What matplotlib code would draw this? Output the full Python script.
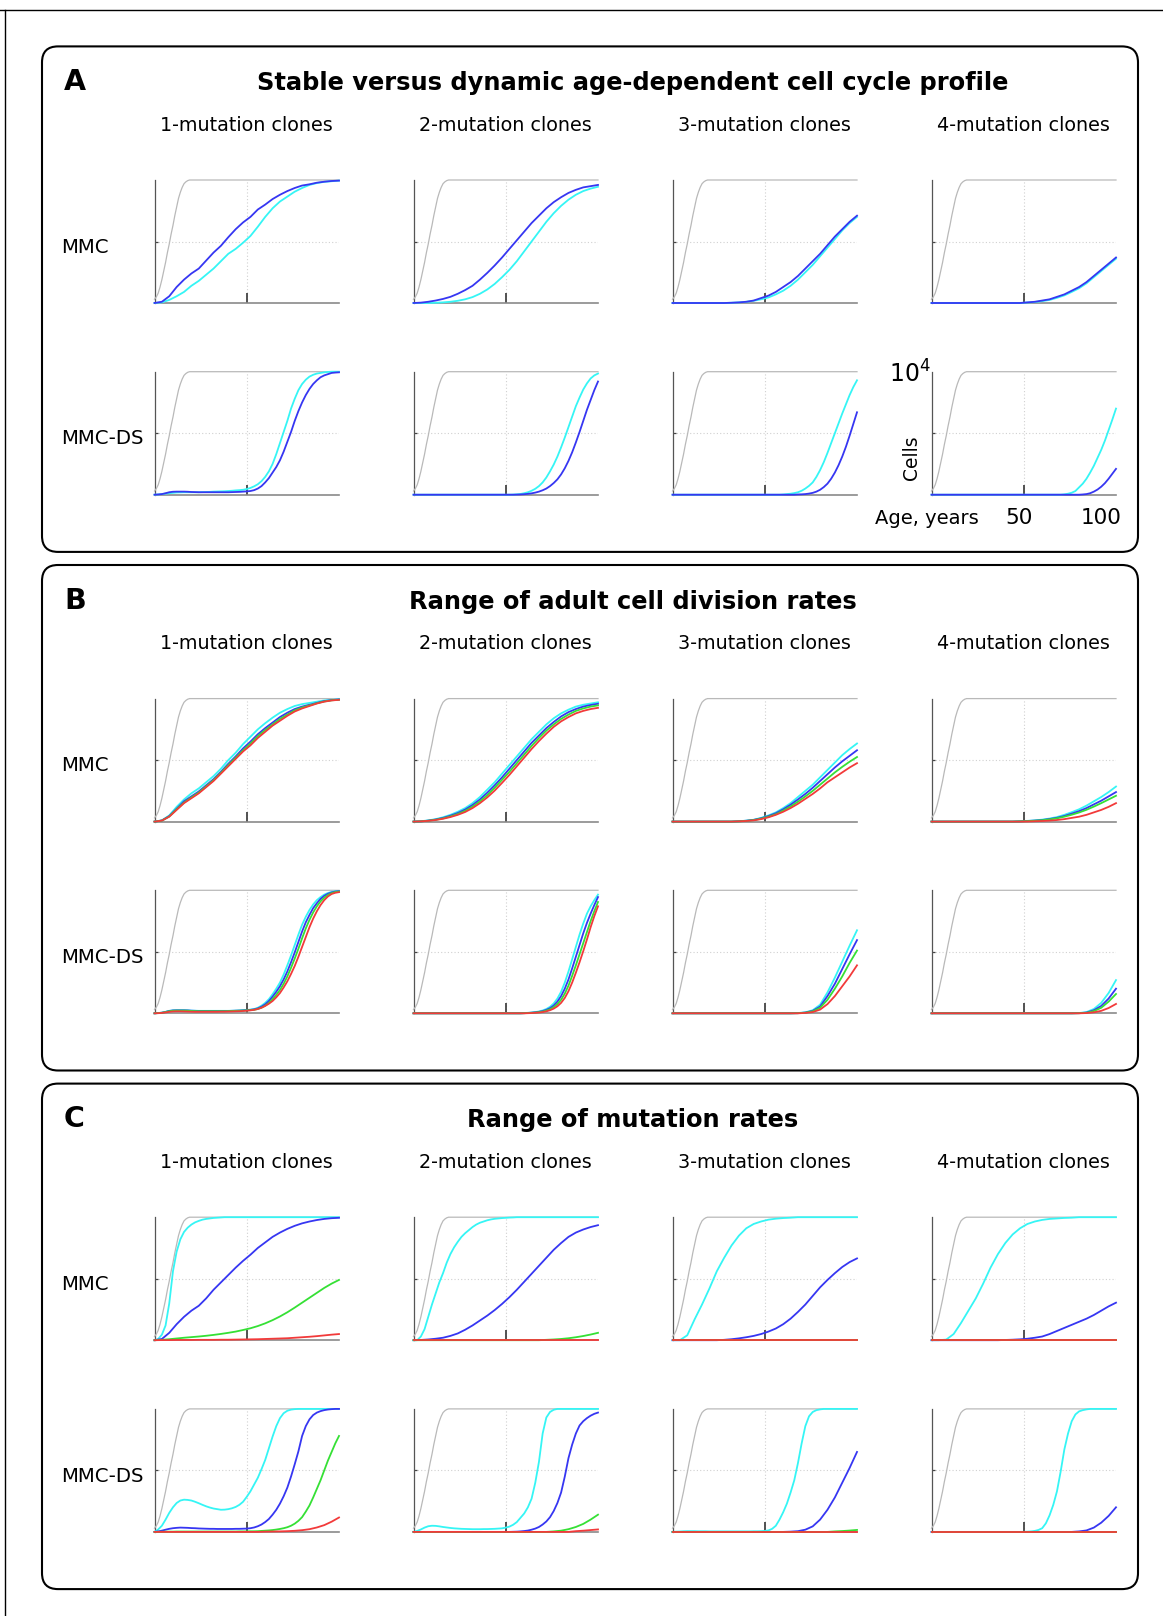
# -*- coding: utf-8 -*-
"""Clone size curves: stable vs dynamic cell cycle, division rates, mutation rates."""

import matplotlib
matplotlib.use("Agg")
import matplotlib.pyplot as plt
from matplotlib.lines import Line2D
from matplotlib.patches import FancyBboxPatch
from matplotlib.transforms import IdentityTransform

FIG_W, FIG_H = 1163, 1616

# ages (years) at which the clone curves were read off:
# gentle curves every 4 years, steep curves every 2 years
AGES = [0, 4, 8, 12, 16, 20, 24, 28, 32, 36, 40, 44, 48, 52, 56, 60,
        64, 68, 72, 76, 80, 84, 88, 92, 96, 100]
AGES_FINE = [0, 2, 4, 6, 8, 10, 12, 14, 16, 18, 20, 22, 24, 26, 28, 30, 32, 34, 36, 38,
             40, 42, 44, 46, 48, 50, 52, 54, 56, 58, 60, 62, 64, 66, 68, 70, 72, 74, 76, 78,
             80, 82, 84, 86, 88, 90, 92, 94, 96, 98, 100]

# total tissue size (grey), fraction of 10^4 cells
GRAY_AGES = [0, 1, 2, 3, 4, 5, 6, 7, 8, 9, 10, 11, 12, 13, 14, 15, 16, 17, 18, 19, 20,
             25, 30, 35, 40, 45, 50, 55, 60, 65, 70, 75, 80, 85, 90, 95, 100]
GRAY_CELLS = [0.03, 0.05, 0.08, 0.13, 0.19, 0.26, 0.33, 0.41, 0.48, 0.56, 0.63, 0.71,
              0.78, 0.85, 0.90, 0.94, 0.97, 0.985, 0.995, 1.0, 1.0,
              1.0, 1.0, 1.0, 1.0, 1.0, 1.0, 1.0, 1.0, 1.0, 1.0, 1.0, 1.0, 1.0, 1.0, 1.0, 1.0]

LETTERS = ["A", "B", "C"]
TITLES = [
    "Stable versus dynamic age-dependent cell cycle profile",
    "Range of adult cell division rates",
    "Range of mutation rates",
]
COLUMNS = ["1-mutation clones", "2-mutation clones", "3-mutation clones", "4-mutation clones"]
ROWS = ["MMC", "MMC-DS"]

# ---- panel A ----
A_MMC_CYAN = [
    [0, 0.005, 0.025, 0.055, 0.09, 0.14, 0.18, 0.23, 0.28, 0.34, 0.40, 0.44, 0.49, 0.545,
     0.62, 0.70, 0.77, 0.825, 0.865, 0.905, 0.935, 0.96, 0.975, 0.985, 0.99, 0.995],
    [0, 0, 0, 0.002, 0.005, 0.01, 0.018, 0.03, 0.048, 0.075, 0.11, 0.155, 0.21, 0.27,
     0.34, 0.42, 0.50, 0.58, 0.66, 0.73, 0.79, 0.84, 0.88, 0.91, 0.93, 0.945],
    [0, 0, 0, 0, 0, 0, 0, 0, 0.002, 0.005, 0.01, 0.018, 0.03, 0.045, 0.07, 0.10, 0.14,
     0.19, 0.25, 0.31, 0.38, 0.45, 0.52, 0.59, 0.65, 0.70],
    [0, 0, 0, 0, 0, 0, 0, 0, 0, 0, 0, 0, 0, 0.004, 0.008, 0.015, 0.025, 0.042, 0.062,
     0.09, 0.12, 0.16, 0.21, 0.26, 0.31, 0.36],
]
A_MMC_BLUE = [
    [0, 0.01, 0.055, 0.13, 0.19, 0.24, 0.28, 0.345, 0.41, 0.465, 0.535, 0.60, 0.655, 0.70,
     0.76, 0.80, 0.845, 0.88, 0.91, 0.935, 0.955, 0.965, 0.978, 0.986, 0.992, 0.995],
    [0, 0.003, 0.01, 0.02, 0.033, 0.05, 0.075, 0.105, 0.14, 0.19, 0.245, 0.305, 0.37, 0.44,
     0.51, 0.58, 0.65, 0.71, 0.77, 0.82, 0.86, 0.895, 0.92, 0.94, 0.95, 0.96],
    [0, 0, 0, 0, 0, 0, 0, 0, 0.002, 0.005, 0.01, 0.02, 0.04, 0.06, 0.09, 0.13, 0.17, 0.22,
     0.28, 0.34, 0.40, 0.47, 0.54, 0.60, 0.66, 0.71],
    [0, 0, 0, 0, 0, 0, 0, 0, 0, 0, 0, 0, 0, 0.005, 0.01, 0.02, 0.03, 0.05, 0.07, 0.10,
     0.13, 0.17, 0.22, 0.27, 0.32, 0.37],
]
A_DS_CYAN = [
    [0, 0.002, 0.005, 0.009, 0.012, 0.015, 0.018, 0.019, 0.02, 0.02,
     0.02, 0.02, 0.02, 0.021, 0.022, 0.023, 0.025, 0.026, 0.027, 0.028,
     0.03, 0.032, 0.035, 0.037, 0.04, 0.046, 0.055, 0.068, 0.085, 0.11,
     0.145, 0.19, 0.25, 0.33, 0.42, 0.51, 0.60, 0.70, 0.78, 0.85,
     0.90, 0.935, 0.96, 0.975, 0.985, 0.99, 0.995, 0.998, 1.0, 1.0,
     1.0],
    [0, 0, 0, 0, 0, 0, 0, 0, 0, 0,
     0, 0, 0, 0, 0, 0, 0, 0, 0, 0,
     0, 0, 0, 0, 0, 0, 0, 0.001, 0.003, 0.006,
     0.012, 0.02, 0.032, 0.048, 0.07, 0.10, 0.14, 0.19, 0.245, 0.31,
     0.385, 0.465, 0.55, 0.635, 0.72, 0.79, 0.855, 0.905, 0.945, 0.97,
     0.985],
    [0, 0, 0, 0, 0, 0, 0, 0, 0, 0,
     0, 0, 0, 0, 0, 0, 0, 0, 0, 0,
     0, 0, 0, 0, 0, 0, 0, 0, 0, 0,
     0.002, 0.005, 0.008, 0.013, 0.02, 0.032, 0.05, 0.072, 0.10, 0.145,
     0.20, 0.265, 0.34, 0.42, 0.50, 0.58, 0.66, 0.735, 0.81, 0.875,
     0.93],
    [0, 0, 0, 0, 0, 0, 0, 0, 0, 0,
     0, 0, 0, 0, 0, 0, 0, 0, 0, 0,
     0, 0, 0, 0, 0, 0, 0, 0, 0, 0,
     0, 0, 0, 0, 0, 0, 0.003, 0.008, 0.016, 0.03,
     0.06, 0.09, 0.13, 0.18, 0.235, 0.30, 0.365, 0.44, 0.525, 0.61,
     0.70],
]
A_DS_BLUE = [
    [0, 0.002, 0.005, 0.012, 0.02, 0.024, 0.025, 0.025, 0.025, 0.024,
     0.022, 0.021, 0.02, 0.02, 0.02, 0.02, 0.02, 0.02, 0.02, 0.02,
     0.02, 0.021, 0.022, 0.023, 0.025, 0.027, 0.03, 0.037, 0.05, 0.07,
     0.10, 0.135, 0.18, 0.225, 0.28, 0.35, 0.43, 0.51, 0.60, 0.68,
     0.75, 0.81, 0.86, 0.90, 0.93, 0.955, 0.97, 0.98, 0.99, 0.993,
     0.995],
    [0, 0, 0, 0, 0, 0, 0, 0, 0, 0,
     0, 0, 0, 0, 0, 0, 0, 0, 0, 0,
     0, 0, 0, 0, 0, 0, 0, 0, 0.001, 0.002,
     0.004, 0.007, 0.011, 0.017, 0.025, 0.036, 0.05, 0.07, 0.095, 0.125,
     0.165, 0.215, 0.275, 0.345, 0.425, 0.51, 0.60, 0.69, 0.77, 0.85,
     0.92],
    [0, 0, 0, 0, 0, 0, 0, 0, 0, 0,
     0, 0, 0, 0, 0, 0, 0, 0, 0, 0,
     0, 0, 0, 0, 0, 0, 0, 0, 0, 0,
     0, 0, 0, 0, 0.002, 0.003, 0.005, 0.009, 0.015, 0.025,
     0.04, 0.062, 0.09, 0.13, 0.18, 0.24, 0.31, 0.39, 0.48, 0.575,
     0.67],
    [0, 0, 0, 0, 0, 0, 0, 0, 0, 0,
     0, 0, 0, 0, 0, 0, 0, 0, 0, 0,
     0, 0, 0, 0, 0, 0, 0, 0, 0, 0,
     0, 0, 0, 0, 0, 0, 0, 0, 0, 0,
     0, 0.002, 0.005, 0.012, 0.025, 0.042, 0.065, 0.094, 0.13, 0.17,
     0.21],
]

# ---- panel B ----
B_MMC_CYAN = [
    [0, 0.01, 0.05, 0.12, 0.18, 0.23, 0.27, 0.32, 0.37, 0.43, 0.50, 0.56, 0.63, 0.69, 0.75,
     0.80, 0.845, 0.885, 0.915, 0.94, 0.955, 0.965, 0.975, 0.985, 0.99, 0.995],
    [0, 0.003, 0.01, 0.02, 0.035, 0.055, 0.08, 0.11, 0.15, 0.20, 0.26, 0.32, 0.39, 0.46,
     0.53, 0.60, 0.67, 0.73, 0.79, 0.84, 0.88, 0.91, 0.935, 0.95, 0.96, 0.97],
    [0, 0, 0, 0, 0, 0, 0, 0, 0, 0.003, 0.008, 0.015, 0.03, 0.05, 0.075, 0.11, 0.15, 0.20,
     0.25, 0.30, 0.36, 0.42, 0.48, 0.54, 0.59, 0.635],
    [0, 0, 0, 0, 0, 0, 0, 0, 0, 0, 0, 0, 0.003, 0.006, 0.01, 0.016, 0.025, 0.037, 0.055,
     0.077, 0.10, 0.13, 0.165, 0.20, 0.24, 0.285],
]
B_MMC_BLUE = [
    [0, 0.009, 0.045, 0.105, 0.165, 0.205, 0.245, 0.295, 0.345, 0.405, 0.47, 0.53, 0.595,
     0.65, 0.71, 0.76, 0.805, 0.85, 0.885, 0.915, 0.935, 0.95, 0.965, 0.98, 0.988, 0.993],
    [0, 0.002, 0.008, 0.017, 0.03, 0.048, 0.07, 0.098, 0.135, 0.18, 0.235, 0.295, 0.36,
     0.43, 0.50, 0.57, 0.64, 0.70, 0.76, 0.81, 0.855, 0.89, 0.915, 0.935, 0.948, 0.958],
    [0, 0, 0, 0, 0, 0, 0, 0, 0, 0.003, 0.007, 0.014, 0.027, 0.045, 0.068, 0.10, 0.137,
     0.18, 0.225, 0.275, 0.33, 0.385, 0.44, 0.49, 0.535, 0.58],
    [0, 0, 0, 0, 0, 0, 0, 0, 0, 0, 0, 0, 0.002, 0.005, 0.008, 0.013, 0.021, 0.031, 0.046,
     0.065, 0.085, 0.11, 0.14, 0.17, 0.205, 0.24],
]
B_MMC_GREEN = [
    [0, 0.008, 0.042, 0.10, 0.155, 0.197, 0.237, 0.287, 0.337, 0.397, 0.46, 0.52, 0.58,
     0.635, 0.695, 0.745, 0.79, 0.835, 0.87, 0.905, 0.928, 0.945, 0.962, 0.977, 0.986, 0.991],
    [0, 0.002, 0.007, 0.015, 0.026, 0.042, 0.062, 0.088, 0.122, 0.165, 0.215, 0.275, 0.34,
     0.405, 0.475, 0.545, 0.615, 0.68, 0.74, 0.79, 0.835, 0.87, 0.90, 0.92, 0.935, 0.945],
    [0, 0, 0, 0, 0, 0, 0, 0, 0, 0.002, 0.006, 0.012, 0.024, 0.04, 0.06, 0.09, 0.123, 0.162,
     0.205, 0.25, 0.30, 0.35, 0.40, 0.445, 0.487, 0.525],
    [0, 0, 0, 0, 0, 0, 0, 0, 0, 0, 0, 0, 0.002, 0.004, 0.007, 0.011, 0.018, 0.027, 0.04,
     0.056, 0.074, 0.096, 0.122, 0.15, 0.18, 0.21],
]
B_MMC_RED = [
    [0, 0.008, 0.04, 0.095, 0.15, 0.19, 0.23, 0.28, 0.33, 0.39, 0.45, 0.51, 0.57, 0.62,
     0.68, 0.73, 0.78, 0.82, 0.86, 0.895, 0.92, 0.94, 0.96, 0.975, 0.985, 0.99],
    [0, 0.002, 0.006, 0.013, 0.023, 0.037, 0.055, 0.078, 0.11, 0.15, 0.197, 0.252, 0.315,
     0.38, 0.45, 0.52, 0.59, 0.655, 0.715, 0.77, 0.815, 0.85, 0.88, 0.90, 0.915, 0.925],
    [0, 0, 0, 0, 0, 0, 0, 0, 0, 0.002, 0.005, 0.01, 0.02, 0.035, 0.055, 0.08, 0.11, 0.145,
     0.185, 0.225, 0.27, 0.32, 0.36, 0.40, 0.44, 0.475],
    [0, 0, 0, 0, 0, 0, 0, 0, 0, 0, 0, 0, 0, 0.001, 0.003, 0.005, 0.008, 0.013, 0.02, 0.03,
     0.04, 0.055, 0.075, 0.095, 0.12, 0.15],
]
B_DS_CYAN = [
    [0, 0.002, 0.005, 0.012, 0.02, 0.024, 0.025, 0.025, 0.025, 0.024,
     0.022, 0.021, 0.02, 0.02, 0.02, 0.02, 0.02, 0.02, 0.02, 0.02,
     0.02, 0.021, 0.022, 0.023, 0.025, 0.027, 0.03, 0.035, 0.045, 0.062,
     0.085, 0.115, 0.155, 0.20, 0.25, 0.315, 0.39, 0.47, 0.555, 0.64,
     0.72, 0.785, 0.84, 0.885, 0.92, 0.945, 0.965, 0.978, 0.987, 0.992,
     0.995],
    [0, 0, 0, 0, 0, 0, 0, 0, 0, 0,
     0, 0, 0, 0, 0, 0, 0, 0, 0, 0,
     0, 0, 0, 0, 0, 0, 0, 0, 0, 0,
     0.002, 0.004, 0.006, 0.01, 0.015, 0.023, 0.035, 0.053, 0.08, 0.12,
     0.175, 0.25, 0.34, 0.44, 0.54, 0.64, 0.73, 0.81, 0.87, 0.92,
     0.965],
    [0, 0, 0, 0, 0, 0, 0, 0, 0, 0, 0, 0, 0, 0, 0, 0, 0, 0.002, 0.008, 0.025, 0.07, 0.17,
     0.29, 0.42, 0.55, 0.675],
    [0, 0, 0, 0, 0, 0, 0, 0, 0, 0, 0, 0, 0, 0, 0, 0, 0, 0, 0, 0, 0.002, 0.01, 0.035, 0.085,
     0.165, 0.27],
]
B_DS_BLUE = [
    [0, 0.002, 0.005, 0.011, 0.019, 0.023, 0.024, 0.024, 0.024, 0.023,
     0.021, 0.02, 0.019, 0.019, 0.019, 0.019, 0.019, 0.019, 0.019, 0.019,
     0.019, 0.02, 0.021, 0.022, 0.024, 0.026, 0.028, 0.032, 0.04, 0.054,
     0.073, 0.10, 0.135, 0.175, 0.22, 0.275, 0.34, 0.415, 0.495, 0.58,
     0.665, 0.74, 0.80, 0.855, 0.895, 0.93, 0.955, 0.972, 0.983, 0.99,
     0.993],
    [0, 0, 0, 0, 0, 0, 0, 0, 0, 0,
     0, 0, 0, 0, 0, 0, 0, 0, 0, 0,
     0, 0, 0, 0, 0, 0, 0, 0, 0, 0,
     0.001, 0.003, 0.005, 0.008, 0.012, 0.018, 0.028, 0.042, 0.063, 0.095,
     0.14, 0.20, 0.275, 0.365, 0.46, 0.555, 0.65, 0.735, 0.81, 0.88,
     0.945],
    [0, 0, 0, 0, 0, 0, 0, 0, 0, 0, 0, 0, 0, 0, 0, 0, 0, 0.001, 0.006, 0.02, 0.055, 0.14,
     0.24, 0.36, 0.48, 0.595],
    [0, 0, 0, 0, 0, 0, 0, 0, 0, 0, 0, 0, 0, 0, 0, 0, 0, 0, 0, 0, 0.001, 0.006, 0.025, 0.06,
     0.12, 0.20],
]
B_DS_GREEN = [
    [0, 0.002, 0.004, 0.01, 0.017, 0.021, 0.022, 0.022, 0.022, 0.021,
     0.019, 0.018, 0.017, 0.017, 0.017, 0.017, 0.017, 0.017, 0.017, 0.017,
     0.018, 0.019, 0.02, 0.021, 0.022, 0.024, 0.026, 0.029, 0.035, 0.046,
     0.062, 0.085, 0.115, 0.15, 0.19, 0.24, 0.30, 0.37, 0.445, 0.525,
     0.61, 0.69, 0.76, 0.82, 0.87, 0.91, 0.94, 0.962, 0.977, 0.986,
     0.99],
    [0, 0, 0, 0, 0, 0, 0, 0, 0, 0,
     0, 0, 0, 0, 0, 0, 0, 0, 0, 0,
     0, 0, 0, 0, 0, 0, 0, 0, 0, 0,
     0.001, 0.002, 0.004, 0.006, 0.009, 0.014, 0.022, 0.033, 0.05, 0.075,
     0.11, 0.16, 0.225, 0.305, 0.39, 0.48, 0.57, 0.66, 0.75, 0.83,
     0.905],
    [0, 0, 0, 0, 0, 0, 0, 0, 0, 0, 0, 0, 0, 0, 0, 0, 0, 0.001, 0.005, 0.016, 0.045, 0.11,
     0.20, 0.30, 0.41, 0.51],
    [0, 0, 0, 0, 0, 0, 0, 0, 0, 0, 0, 0, 0, 0, 0, 0, 0, 0, 0, 0, 0.001, 0.004, 0.018,
     0.045, 0.095, 0.157],
]
B_DS_RED = [
    [0, 0.001, 0.003, 0.007, 0.012, 0.015, 0.016, 0.016, 0.015, 0.014,
     0.013, 0.012, 0.012, 0.012, 0.012, 0.012, 0.012, 0.012, 0.013, 0.013,
     0.014, 0.015, 0.016, 0.017, 0.019, 0.021, 0.024, 0.028, 0.035, 0.045,
     0.06, 0.078, 0.10, 0.13, 0.165, 0.21, 0.26, 0.32, 0.385, 0.46,
     0.54, 0.62, 0.70, 0.77, 0.83, 0.88, 0.92, 0.95, 0.97, 0.98,
     0.985],
    [0, 0, 0, 0, 0, 0, 0, 0, 0, 0,
     0, 0, 0, 0, 0, 0, 0, 0, 0, 0,
     0, 0, 0, 0, 0, 0, 0, 0, 0, 0,
     0, 0.001, 0.002, 0.004, 0.006, 0.01, 0.016, 0.025, 0.038, 0.057,
     0.085, 0.125, 0.18, 0.25, 0.33, 0.415, 0.505, 0.60, 0.70, 0.79,
     0.87],
    [0, 0, 0, 0, 0, 0, 0, 0, 0, 0, 0, 0, 0, 0, 0, 0, 0, 0, 0.003, 0.01, 0.03, 0.075, 0.14,
     0.22, 0.30, 0.39],
    [0, 0, 0, 0, 0, 0, 0, 0, 0, 0, 0, 0, 0, 0, 0, 0, 0, 0, 0, 0, 0, 0.002, 0.008, 0.02,
     0.043, 0.076],
]

# ---- panel C ----
C_MMC_CYAN = [
    [0, 0.01, 0.045, 0.12, 0.30, 0.56, 0.72, 0.82, 0.88, 0.915,
     0.94, 0.958, 0.97, 0.98, 0.986, 0.99, 0.994, 0.996, 0.998, 1.0,
     1.0, 1.0, 1.0, 1.0, 1.0, 1.0, 1.0, 1.0, 1.0, 1.0,
     1.0, 1.0, 1.0, 1.0, 1.0, 1.0, 1.0, 1.0, 1.0, 1.0,
     1.0, 1.0, 1.0, 1.0, 1.0, 1.0, 1.0, 1.0, 1.0, 1.0,
     1.0],
    [0, 0, 0.03, 0.09, 0.19, 0.29, 0.38, 0.47, 0.545, 0.63,
     0.70, 0.755, 0.80, 0.84, 0.87, 0.895, 0.92, 0.94, 0.955, 0.965,
     0.975, 0.982, 0.987, 0.99, 0.993, 0.995, 0.997, 0.998, 1.0, 1.0,
     1.0, 1.0, 1.0, 1.0, 1.0, 1.0, 1.0, 1.0, 1.0, 1.0,
     1.0, 1.0, 1.0, 1.0, 1.0, 1.0, 1.0, 1.0, 1.0, 1.0,
     1.0],
    [0, 0, 0.04, 0.17, 0.29, 0.42, 0.56, 0.67, 0.77, 0.85, 0.91, 0.945, 0.965, 0.98, 0.988,
     0.993, 0.996, 1.0, 1.0, 1.0, 1.0, 1.0, 1.0, 1.0, 1.0, 1.0],
    [0, 0, 0.005, 0.05, 0.14, 0.24, 0.34, 0.46, 0.59, 0.70, 0.79, 0.86, 0.91, 0.945, 0.965,
     0.978, 0.986, 0.99, 0.994, 0.996, 1.0, 1.0, 1.0, 1.0, 1.0, 1.0],
]
C_MMC_BLUE = [
    [0, 0.01, 0.06, 0.13, 0.19, 0.24, 0.28, 0.34, 0.41, 0.47, 0.53, 0.59, 0.645, 0.695,
     0.75, 0.795, 0.84, 0.875, 0.905, 0.93, 0.95, 0.965, 0.977, 0.986, 0.992, 0.995],
    [0, 0.002, 0.006, 0.012, 0.02, 0.035, 0.055, 0.085, 0.12, 0.16, 0.20, 0.245, 0.295,
     0.35, 0.41, 0.475, 0.54, 0.605, 0.67, 0.735, 0.79, 0.84, 0.875, 0.90, 0.92, 0.935],
    [0, 0, 0, 0, 0, 0, 0, 0.003, 0.008, 0.015, 0.024, 0.035, 0.05, 0.07, 0.095, 0.13,
     0.175, 0.23, 0.29, 0.36, 0.43, 0.49, 0.545, 0.595, 0.635, 0.665],
    [0, 0, 0, 0, 0, 0, 0, 0, 0, 0, 0.002, 0.004, 0.007, 0.012, 0.02, 0.03, 0.05, 0.075,
     0.10, 0.125, 0.15, 0.175, 0.205, 0.24, 0.275, 0.305],
]
C_MMC_GREEN = [
    [0, 0.003, 0.008, 0.014, 0.02, 0.025, 0.03, 0.036, 0.043, 0.051, 0.06, 0.07, 0.083,
     0.097, 0.115, 0.137, 0.163, 0.193, 0.227, 0.265, 0.305, 0.345, 0.385, 0.425, 0.46, 0.49],
    [0, 0, 0, 0, 0, 0, 0, 0, 0, 0, 0, 0, 0, 0, 0, 0, 0, 0, 0.003, 0.006, 0.01, 0.016,
     0.024, 0.034, 0.046, 0.06],
    [0, 0, 0, 0, 0, 0, 0, 0, 0, 0, 0, 0, 0, 0, 0, 0, 0, 0, 0, 0, 0, 0, 0, 0, 0, 0],
    [0, 0, 0, 0, 0, 0, 0, 0, 0, 0, 0, 0, 0, 0, 0, 0, 0, 0, 0, 0, 0, 0, 0, 0, 0, 0],
]
C_MMC_RED = [
    [0, 0.001, 0.001, 0.002, 0.002, 0.002, 0.003, 0.003, 0.003, 0.004, 0.004, 0.005, 0.006,
     0.007, 0.008, 0.01, 0.012, 0.014, 0.016, 0.02, 0.024, 0.028, 0.033, 0.039, 0.045, 0.05],
    [0, 0, 0, 0, 0, 0, 0, 0, 0, 0, 0, 0, 0, 0, 0, 0, 0, 0, 0, 0, 0, 0, 0, 0, 0, 0],
    [0, 0, 0, 0, 0, 0, 0, 0, 0, 0, 0, 0, 0, 0, 0, 0, 0, 0, 0, 0, 0, 0, 0, 0, 0, 0],
    [0, 0, 0, 0, 0, 0, 0, 0, 0, 0, 0, 0, 0, 0, 0, 0, 0, 0, 0, 0, 0, 0, 0, 0, 0, 0],
]
C_DS_CYAN = [
    [0, 0.02, 0.05, 0.10, 0.155, 0.2, 0.235, 0.255, 0.262, 0.26,
     0.255, 0.245, 0.233, 0.22, 0.208, 0.198, 0.19, 0.185, 0.18, 0.181,
     0.185, 0.192, 0.203, 0.22, 0.245, 0.285, 0.33, 0.385, 0.44, 0.51,
     0.585, 0.68, 0.775, 0.86, 0.925, 0.965, 0.985, 0.994, 0.998, 1.0,
     1.0, 1.0, 1.0, 1.0, 1.0, 1.0, 1.0, 1.0, 1.0, 1.0,
     1.0],
    [0, 0.008, 0.02, 0.035, 0.046, 0.05, 0.049, 0.045, 0.04, 0.036,
     0.032, 0.029, 0.027, 0.025, 0.024, 0.023, 0.022, 0.022, 0.022, 0.023,
     0.023, 0.024, 0.025, 0.027, 0.029, 0.035, 0.043, 0.058, 0.08, 0.115,
     0.15, 0.20, 0.27, 0.40, 0.57, 0.80, 0.93, 0.975, 0.993, 1.0,
     1.0, 1.0, 1.0, 1.0, 1.0, 1.0, 1.0, 1.0, 1.0, 1.0,
     1.0],
    [0, 0.002, 0.003, 0.005, 0.006, 0.006, 0.006, 0.005, 0.005, 0.005,
     0.004, 0.004, 0.004, 0.004, 0.004, 0.004, 0.004, 0.004, 0.004, 0.004,
     0.004, 0.004, 0.005, 0.005, 0.006, 0.008, 0.012, 0.025, 0.05, 0.10,
     0.16, 0.23, 0.32, 0.42, 0.56, 0.72, 0.86, 0.94, 0.975, 0.99,
     0.996, 1.0, 1.0, 1.0, 1.0, 1.0, 1.0, 1.0, 1.0, 1.0,
     1.0],
    [0, 0, 0, 0, 0, 0, 0, 0, 0, 0,
     0, 0, 0, 0, 0, 0, 0, 0, 0, 0,
     0, 0, 0, 0, 0, 0.001, 0.002, 0.004, 0.008, 0.016,
     0.03, 0.07, 0.135, 0.22, 0.33, 0.49, 0.67, 0.80, 0.90, 0.955,
     0.98, 0.99, 0.996, 1.0, 1.0, 1.0, 1.0, 1.0, 1.0, 1.0,
     1.0],
]
C_DS_BLUE = [
    [0, 0.004, 0.01, 0.018, 0.025, 0.03, 0.033, 0.035, 0.034, 0.033,
     0.031, 0.03, 0.028, 0.027, 0.026, 0.025, 0.025, 0.024, 0.024, 0.024,
     0.024, 0.024, 0.025, 0.025, 0.026, 0.027, 0.03, 0.036, 0.046, 0.06,
     0.08, 0.105, 0.14, 0.18, 0.23, 0.29, 0.36, 0.45, 0.55, 0.655,
     0.78, 0.86, 0.915, 0.95, 0.97, 0.982, 0.99, 0.995, 0.998, 1.0,
     1.0],
    [0, 0, 0, 0, 0, 0, 0, 0, 0, 0,
     0, 0, 0, 0, 0, 0, 0, 0, 0, 0,
     0, 0, 0, 0, 0, 0, 0, 0.001, 0.002, 0.004,
     0.007, 0.011, 0.018, 0.027, 0.04, 0.06, 0.085, 0.12, 0.17, 0.235,
     0.32, 0.45, 0.60, 0.71, 0.80, 0.865, 0.90, 0.925, 0.945, 0.96,
     0.97],
    [0, 0, 0, 0, 0, 0, 0, 0, 0, 0, 0, 0, 0, 0, 0, 0, 0.002, 0.006, 0.018, 0.045, 0.10,
     0.18, 0.28, 0.40, 0.52, 0.65],
    [0, 0, 0, 0, 0, 0, 0, 0, 0, 0, 0, 0, 0, 0, 0, 0, 0, 0, 0, 0, 0.004, 0.012, 0.035,
     0.075, 0.13, 0.20],
]
C_DS_GREEN = [
    [0, 0.001, 0.001, 0.002, 0.002, 0.002, 0.003, 0.003, 0.003, 0.003,
     0.003, 0.003, 0.003, 0.003, 0.003, 0.003, 0.003, 0.003, 0.003, 0.003,
     0.003, 0.003, 0.003, 0.004, 0.004, 0.004, 0.005, 0.005, 0.006, 0.008,
     0.01, 0.012, 0.015, 0.019, 0.024, 0.03, 0.038, 0.05, 0.067, 0.09,
     0.12, 0.165, 0.215, 0.28, 0.35, 0.42, 0.50, 0.58, 0.65, 0.72,
     0.78],
    [0, 0, 0, 0, 0, 0, 0, 0, 0, 0, 0, 0, 0, 0, 0, 0, 0, 0, 0, 0.004, 0.01, 0.022, 0.04,
     0.065, 0.10, 0.14],
    [0, 0, 0, 0, 0, 0, 0, 0, 0, 0, 0, 0, 0, 0, 0, 0, 0, 0, 0, 0, 0, 0, 0.004, 0.007,
     0.011, 0.016],
    [0, 0, 0, 0, 0, 0, 0, 0, 0, 0, 0, 0, 0, 0, 0, 0, 0, 0, 0, 0, 0, 0, 0, 0, 0, 0],
]
C_DS_RED = [
    [0, 0, 0, 0, 0, 0, 0, 0, 0, 0, 0, 0, 0, 0, 0, 0.002, 0.003, 0.004, 0.006, 0.009, 0.014,
     0.022, 0.036, 0.055, 0.083, 0.117],
    [0, 0, 0, 0, 0, 0, 0, 0, 0, 0, 0, 0, 0, 0, 0, 0, 0, 0, 0, 0, 0, 0, 0.006, 0.01, 0.015,
     0.02],
    [0, 0, 0, 0, 0, 0, 0, 0, 0, 0, 0, 0, 0, 0, 0, 0, 0, 0, 0, 0, 0, 0, 0, 0, 0, 0],
    [0, 0, 0, 0, 0, 0, 0, 0, 0, 0, 0, 0, 0, 0, 0, 0, 0, 0, 0, 0, 0, 0, 0, 0, 0, 0],
]

COLORS = {"gray": "#b9b9b9", "cyan": "#35f5f5", "blue": "#3636f2",
          "green": "#35e035", "red": "#f23a3a"}

# ---- layout in pixels ----
PANEL_TOPS = [46.4, 565.0, 1083.6]
BOX_LEFT, BOX_W, BOX_H = 42.0, 1096.0, 505.5
AX_LEFTS = [154.5, 413.5, 672.5, 931.5]
AX_W, AX_H = 184.5, 123.0
ROW_OFFSETS = [133.6, 325.3]


def fx(x):
    return x / FIG_W


def fy(y):
    return 1.0 - y / FIG_H


def style_axes(ax):
    ax.set_xlim(0, 100)
    ax.set_ylim(0, 1)
    ax.patch.set_alpha(0)
    ax.spines["top"].set_visible(False)
    ax.spines["right"].set_visible(False)
    ax.spines["left"].set_color("#555555")
    ax.spines["left"].set_linewidth(0.9)
    ax.spines["bottom"].set_color("#8a8a8a")
    ax.spines["bottom"].set_linewidth(1.2)
    ax.set_xticks([50])
    ax.set_yticks([0.5])
    ax.tick_params(axis="x", direction="in", length=7, width=1.3, color="#444444",
                   labelbottom=False)
    ax.tick_params(axis="y", direction="in", length=2, width=0.9, color="#444444",
                   labelleft=False)
    ax.grid(True, linestyle=(0, (1, 2)), color="#d0d0d0", linewidth=0.8)
    ax.set_axisbelow(True)


def draw_panel(fig, idx, rows):
    top = PANEL_TOPS[idx]
    box = FancyBboxPatch((BOX_LEFT, FIG_H - top - BOX_H), BOX_W, BOX_H,
                         boxstyle="round,pad=0,rounding_size=16",
                         transform=IdentityTransform(), fill=False,
                         edgecolor="black", linewidth=1.5)
    fig.add_artist(box)

    fig.text(fx(64), fy(top + 43.6), LETTERS[idx], fontsize=20.5, fontweight="bold",
             ha="left", va="baseline")
    fig.text(fx(633), fy(top + 43.6), TITLES[idx], fontsize=17.4, fontweight="bold",
             ha="center", va="baseline")

    for c, label in enumerate(COLUMNS):
        fig.text(fx(AX_LEFTS[c] + AX_W / 2), fy(top + 84.3), label, fontsize=13.8,
                 ha="center", va="baseline")

    for r, (row_name, curves) in enumerate(zip(ROWS, rows)):
        ax_top = top + ROW_OFFSETS[r]
        fig.text(fx(61), fy(ax_top + 72.7), row_name, fontsize=14.2,
                 ha="left", va="baseline")
        for c in range(4):
            ax = fig.add_axes([fx(AX_LEFTS[c]), fy(ax_top + AX_H), AX_W / FIG_W, AX_H / FIG_H])
            style_axes(ax)
            ax.plot(GRAY_AGES, GRAY_CELLS, color=COLORS["gray"], linewidth=0.9,
                    clip_on=False, zorder=3)
            for name, series in curves:
                values = series[c]
                ages = AGES_FINE if len(values) == len(AGES_FINE) else AGES
                ax.plot(ages, values, color=COLORS[name], linewidth=1.3,
                        clip_on=False, zorder=3)


def main():
    fig = plt.figure(figsize=(FIG_W / 100, FIG_H / 100), dpi=100)

    # page frame (top and left edges)
    fig.add_artist(Line2D([0, 1], [fy(9.5), fy(9.5)], color="black", linewidth=1.0))
    fig.add_artist(Line2D([fx(4.5), fx(4.5)], [fy(9.5), 0], color="black", linewidth=1.0))

    panel_rows = [
        [[("cyan", A_MMC_CYAN), ("blue", A_MMC_BLUE)],
         [("cyan", A_DS_CYAN), ("blue", A_DS_BLUE)]],
        [[("cyan", B_MMC_CYAN), ("blue", B_MMC_BLUE), ("green", B_MMC_GREEN), ("red", B_MMC_RED)],
         [("cyan", B_DS_CYAN), ("blue", B_DS_BLUE), ("green", B_DS_GREEN), ("red", B_DS_RED)]],
        [[("cyan", C_MMC_CYAN), ("blue", C_MMC_BLUE), ("green", C_MMC_GREEN), ("red", C_MMC_RED)],
         [("cyan", C_DS_CYAN), ("blue", C_DS_BLUE), ("green", C_DS_GREEN), ("red", C_DS_RED)]],
    ]
    for idx, rows in enumerate(panel_rows):
        draw_panel(fig, idx, rows)

    # axis annotation on panel A, MMC-DS, 4-mutation clones
    a_top = PANEL_TOPS[0] + ROW_OFFSETS[1]
    fig.text(fx(931), fy(a_top + 10.5), r"$10^4$", fontsize=17, ha="right", va="baseline")
    fig.text(fx(912), fy(a_top + 85.5), "Cells", fontsize=13.5, rotation=90,
             ha="center", va="center")
    fig.text(fx(927), fy(524), "Age, years", fontsize=14, ha="center", va="baseline")
    fig.text(fx(1019), fy(524), "50", fontsize=15.5, ha="center", va="baseline")
    fig.text(fx(1101), fy(524), "100", fontsize=15.5, ha="center", va="baseline")

    fig.savefig("out.png", dpi=100)
    plt.close(fig)


if __name__ == "__main__":
    main()
